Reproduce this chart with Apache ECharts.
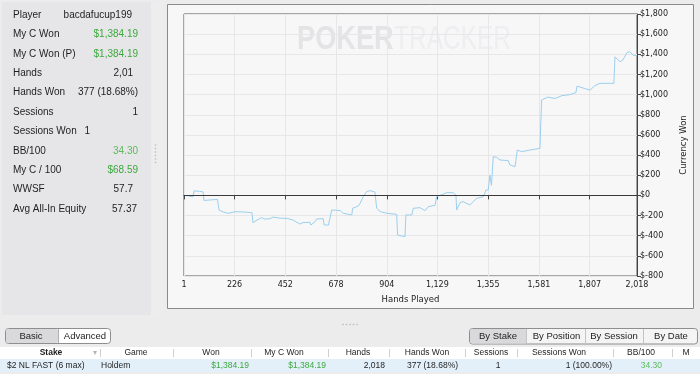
<!DOCTYPE html>
<html>
<head>
<meta charset="utf-8">
<script src="https://cdn.jsdelivr.net/npm/echarts@6/dist/echarts.min.js"></script>
<style>html,body{margin:0;padding:0;background:#ececec;}#c{width:700px;height:374px;}</style>
</head>
<body>
<div id="c"></div>
<script>
// ---- data ----
var hands = [1,5,20,41,46,70,86,90,120,150,154,157,170,197,228,270,304,308,326,348,352,357,384,397,428,459,486,517,531,562,566,584,592,621,625,644,659,666,696,710,748,752,777,785,799,814,829,851,859,874,904,948,952,985,989,1015,1022,1052,1074,1089,1119,1126,1141,1171,1200,1212,1215,1230,1244,1274,1289,1304,1334,1346,1356,1363,1370,1378,1393,1408,1445,1452,1475,1485,1504,1542,1586,1593,1621,1653,1684,1720,1746,1751,1786,1809,1831,1853,1915,1920,1942,1955,1973,1986,2000,2018];
var won = [0,2,-5,-15,45,40,35,-50,-45,-40,-100,-145,-160,-178,-162,-165,-172,-270,-245,-220,-212,-235,-232,-215,-226,-228,-244,-284,-270,-267,-294,-262,-234,-231,-294,-294,-145,-128,-150,-178,-194,-128,-105,-79,-13,37,47,34,-128,-160,-178,-188,-393,-410,-194,-194,-128,-122,-152,-112,-98,-13,0,27,27,0,-145,-72,-62,-95,-62,-29,-13,54,54,202,100,384,378,351,345,302,285,450,434,450,467,946,975,962,990,1000,1020,1085,1060,1045,1090,1112,1112,1375,1326,1343,1416,1426,1393,1384.19];
var xTicks = [1,226,452,678,904,1129,1355,1581,1807,2018];

var statLabels = ['Player','My C Won','My C Won (P)','Hands','Hands Won','Sessions','Sessions Won','BB/100','My C / 100','WWSF','Avg All-In Equity'];
var statValues = ['bacdafucup199','$1,384.19','$1,384.19','2,01','377 (18.68%)','1','1','34.30','$68.59','57.7','57.37'];

var tableHeaders = ['Stake','Game','Won','My C Won','Hands','Hands Won','Sessions','Sessions Won','BB/100','M'];
var tableRow = ['$2 NL FAST (6 max)','Holdem','$1,384.19','$1,384.19','2,018','377 (18.68%)','1','1 (100.00%)','34.30',''];

var leftTabs = ['Basic','Advanced'];
var rightTabs = ['By Stake','By Position','By Session','By Date'];

// ---- layout ----
var F = '"Liberation Sans", Arial, sans-serif';
var G = [];
function txt(x,y,s,o){o=o||{};G.push({type:'text',x:x,y:y,z:o.z||10,style:{text:s,fill:o.fill||'#1e1e1e',font:(o.weight||'normal')+' '+(o.size||10)+'px '+(o.family||F),textAlign:o.align||'left',textVerticalAlign:'middle'}});}
function rect(x,y,w,h,fill,stroke,z,r){G.push({type:'rect',z:z==null?-10:z,shape:{x:x,y:y,width:w,height:h,r:r||0},style:{fill:fill,stroke:stroke||null,lineWidth:stroke?1:0}});}
function line(x1,y1,x2,y2,c,z){G.push({type:'line',z:z==null?5:z,shape:{x1:x1,y1:y1,x2:x2,y2:y2},style:{stroke:c,lineWidth:1}});}
function dot(x,y){G.push({type:'circle',z:5,shape:{cx:x,cy:y,r:0.8},style:{fill:'#b8b8b8'}});}

// left panel
rect(2,2,149,313,'#e6e6e8',null,-20);
rect(151,2,12,313,'#ededee',null,-20);
for(var d=0;d<6;d++) dot(155.5,145+d*3.5);
var valRight = [132,138,138,133,138,138,90,138,138,133,137];
var green = {1:'#3ea83e',2:'#3ea83e',7:'#5cba5c',8:'#3ea83e'};
for(var i=0;i<statLabels.length;i++){
  var yy = 15+i*19.4;
  txt(13,yy,statLabels[i]);
  txt(valRight[i],yy,statValues[i],{align:'right',fill:green[i]||'#1e1e1e'});
}

// chart frame
rect(167.5,4.5,526,304,'#f7f7f8','#8a8a8a',-20);
// watermark
G.push({type:'text',x:297,y:40,z:-5,scaleX:0.8,style:{text:'POKER',fill:'#e4e4e6',font:'bold 34px '+F,textAlign:'left',textVerticalAlign:'middle'}});
G.push({type:'text',x:394,y:40,z:-5,scaleX:0.72,style:{text:'TRACKER',fill:'#eeeef0',font:'normal 34px '+F,textAlign:'left',textVerticalAlign:'middle'}});

// bottom handle
for(var d2=0;d2<5;d2++) dot(343+d2*3.5,324.5);

// left tabs
rect(5.5,328.5,105,15,'#ffffff','#8e8e8e',1,3);
rect(6,329,52,14,'#d9d9db',null,2,2);
line(58.5,329,58.5,343,'#b0b0b0',3);
txt(31,336,leftTabs[0],{align:'center',size:9.5});
txt(85,336,leftTabs[1],{align:'center',size:9.5});

// right tabs
rect(469.5,328.5,228,15.5,'#f4f4f5','#8e8e8e',1,3);
rect(470,329,56.5,14.5,'#d9d9db',null,2,2);
var tabSep=[526.5,585.5,643.5];
for(var s=0;s<tabSep.length;s++) line(tabSep[s],329,tabSep[s],343.5,'#c4c4c4',3);
var tabCx=[498,556.5,614,671];
for(var t=0;t<rightTabs.length;t++) txt(tabCx[t],336.5,rightTabs[t],{align:'center',size:9.5});

// table
rect(0,347,700,12,'#ffffff',null,1);
rect(0,359,700,13,'#e3f0fa',null,1);
var sepX=[100.5,173.5,251.5,328.5,389.5,465.5,517.5,613.5,672.5];
for(var k=0;k<sepX.length;k++) line(sepX[k],349,sepX[k],357,'#cfcfcf',3);
var hCx=[51,136,211,284,358,427,491,559,641,686];
for(var h=0;h<tableHeaders.length;h++) txt(hCx[h],353,tableHeaders[h],{align:'center',size:8.5,weight:h===0?'bold':'normal'});
txt(95,352.5,'\u25BE',{align:'center',size:8,fill:'#b5b5b5'});
var rX=[7,101,249,326,385,407,498,612,662];
var rA=['left','left','right','right','right','left','center','right','right'];
var rC=['#1e1e1e','#1e1e1e','#3ea83e','#3ea83e','#1e1e1e','#1e1e1e','#1e1e1e','#1e1e1e','#5cba5c'];
for(var r=0;r<9;r++) txt(rX[r],365.5,tableRow[r],{align:rA[r],size:8.5,fill:rC[r]});

var chart = echarts.init(document.getElementById('c'), null, {renderer:'canvas'});
var AX = 'DejaVu Sans, sans-serif';
chart.setOption({
  backgroundColor:'#ececec',
  animation:false,
  grid:{left:184,right:63,top:14,bottom:98,show:true,borderColor:'#555',borderWidth:1,backgroundColor:'transparent'},
  xAxis:{
    type:'value',min:1,max:2018,
    name:'Hands Played',nameLocation:'middle',nameGap:19,
    nameTextStyle:{fontFamily:AX,fontSize:8.5,color:'#222'},
    axisLine:{show:true,lineStyle:{color:'#444',width:1}},
    axisTick:{show:true,length:4,customValues:xTicks,lineStyle:{color:'#444'}},
    axisLabel:{customValues:xTicks,fontFamily:AX,fontSize:8,color:'#222',margin:5,formatter:function(v){return Math.round(v).toLocaleString('en-US');}},
    splitLine:{show:true,lineStyle:{color:'#e7e7ea',width:1}}
  },
  yAxis:{
    type:'value',position:'right',min:-800,max:1800,interval:200,
    name:'Currency Won',nameLocation:'middle',nameGap:36,nameRotate:90,
    nameTextStyle:{fontFamily:AX,fontSize:8.5,color:'#222'},
    axisLine:{show:true,lineStyle:{color:'#444',width:1}},
    axisTick:{show:true,length:4,lineStyle:{color:'#444'}},
    axisLabel:{fontFamily:AX,fontSize:8,color:'#222',margin:3,formatter:function(v){return (v<0?'$-':'$')+Math.abs(v).toLocaleString('en-US');}},
    splitLine:{show:true,lineStyle:{color:'#e7e7ea',width:1}}
  },
  series:[{
    type:'line',
    data:hands.map(function(hh,i){return [hh,won[i]];}),
    showSymbol:false,
    lineStyle:{color:'#9ccfee',width:1},
    z:3,
    markLine:{silent:true,symbol:'none',label:{show:false},lineStyle:{color:'#3a3a3a',width:1,type:'solid'},data:[{yAxis:0}]}
  }],
  graphic:{elements:G}
});
</script>
</body>
</html>
